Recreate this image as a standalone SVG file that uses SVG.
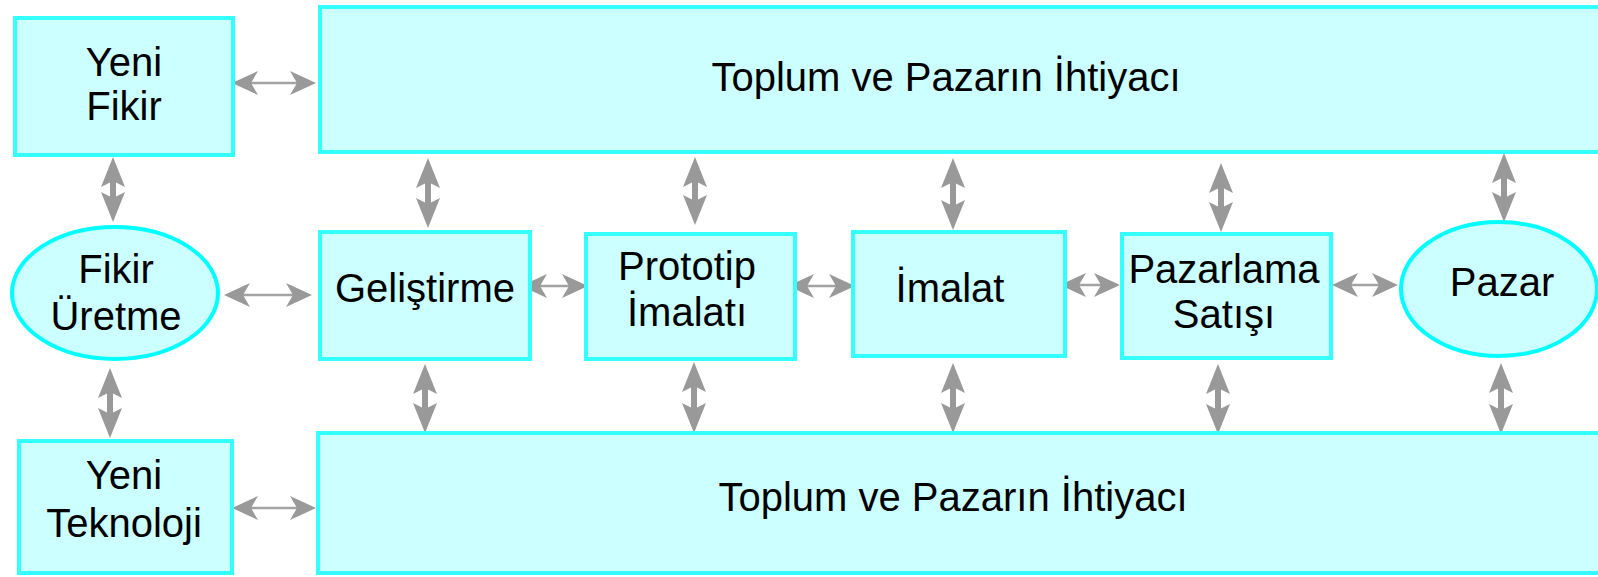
<svg xmlns="http://www.w3.org/2000/svg" width="1598" height="577" viewBox="0 0 1598 577">
  <style>
    .box { fill: #ccffff; stroke: #33ffff; stroke-width: 4; }
    .oval { fill: #ccffff; stroke: #00ffff; stroke-width: 4; }
    .lbl { font-family: "Liberation Sans", Arial, sans-serif; font-size: 40px; fill: #000; text-anchor: middle; }
    .h { stroke: #a3a3a3; stroke-width: 2.5; fill: none; marker-start: url(#hh); marker-end: url(#hh); }
    .v { stroke: #999999; stroke-width: 6; fill: none; marker-start: url(#vh); marker-end: url(#vh); }
  </style>
  <defs>
    <marker id="hh" markerUnits="userSpaceOnUse" markerWidth="26" markerHeight="24" refX="22" refY="12" orient="auto-start-reverse" viewBox="0 0 26 24">
      <path d="M0,0 L26,12 L0,24 L7,12 Z" fill="#999999"/>
    </marker>
    <marker id="vh" markerUnits="userSpaceOnUse" markerWidth="30" markerHeight="24" refX="10" refY="12" orient="auto-start-reverse" viewBox="0 0 30 24">
      <path d="M0,0 L30,12 L0,24 L6,12 Z" fill="#999999"/>
    </marker>
  </defs>

  <g id="connectors">
    <line class="h" x1="236" y1="83" x2="312" y2="83"/>
    <line class="h" x1="228" y1="295" x2="308" y2="295"/>
    <line class="h" x1="525" y1="286" x2="584" y2="286"/>
    <line class="h" x1="792" y1="286" x2="851" y2="286"/>
    <line class="h" x1="1064" y1="285" x2="1116" y2="285"/>
    <line class="h" x1="1336" y1="285" x2="1394" y2="285"/>
    <line class="h" x1="236" y1="508" x2="312" y2="508"/>

    <line class="v" x1="113" y1="177" x2="113" y2="202"/>
    <line class="v" x1="110" y1="388" x2="110" y2="418"/>
    <line class="v" x1="428" y1="178" x2="428" y2="208"/>
    <line class="v" x1="695" y1="177" x2="695" y2="205"/>
    <line class="v" x1="953" y1="178" x2="953" y2="210"/>
    <line class="v" x1="1221" y1="183" x2="1221" y2="212"/>
    <line class="v" x1="1504" y1="173" x2="1504" y2="202"/>
    <line class="v" x1="425" y1="384" x2="425" y2="413"/>
    <line class="v" x1="694" y1="382" x2="694" y2="413"/>
    <line class="v" x1="953" y1="383" x2="953" y2="413"/>
    <line class="v" x1="1218" y1="384" x2="1218" y2="414"/>
    <line class="v" x1="1501" y1="383" x2="1501" y2="414"/>
  </g>

  <g id="yeni-fikir">
    <rect class="box" x="15" y="18" width="218" height="137"/>
    <text class="lbl" x="124" y="76">Yeni</text>
    <text class="lbl" x="124" y="120">Fikir</text>
  </g>

  <g id="toplum-top">
    <rect class="box" x="320" y="7" width="1300" height="145"/>
    <text class="lbl" x="946" y="91">Toplum ve Pazarın İhtiyacı</text>
  </g>

  <g id="fikir-uretme">
    <ellipse class="oval" cx="115" cy="293" rx="103" ry="66"/>
    <text class="lbl" x="116" y="283">Fikir</text>
    <text class="lbl" x="116" y="330">Üretme</text>
  </g>

  <g id="gelistirme">
    <rect class="box" x="320" y="232" width="210" height="127"/>
    <text class="lbl" x="425" y="302">Geliştirme</text>
  </g>

  <g id="prototip">
    <rect class="box" x="586" y="234" width="209" height="125"/>
    <text class="lbl" x="687" y="280">Prototip</text>
    <text class="lbl" x="687" y="326">İmalatı</text>
  </g>

  <g id="imalat">
    <rect class="box" x="853" y="232" width="212" height="124"/>
    <text class="lbl" x="950" y="302">İmalat</text>
  </g>

  <g id="pazarlama">
    <rect class="box" x="1122" y="234" width="209" height="124"/>
    <text class="lbl" x="1224" y="283">Pazarlama</text>
    <text class="lbl" x="1224" y="328">Satışı</text>
  </g>

  <g id="pazar">
    <ellipse class="oval" cx="1499" cy="289" rx="98" ry="67"/>
    <text class="lbl" x="1502" y="296">Pazar</text>
  </g>

  <g id="yeni-teknoloji">
    <rect class="box" x="19" y="441" width="213" height="132"/>
    <text class="lbl" x="124" y="489">Yeni</text>
    <text class="lbl" x="124" y="537">Teknoloji</text>
  </g>

  <g id="toplum-bottom">
    <rect class="box" x="318" y="433" width="1300" height="140"/>
    <text class="lbl" x="953" y="511">Toplum ve Pazarın İhtiyacı</text>
  </g>
</svg>
